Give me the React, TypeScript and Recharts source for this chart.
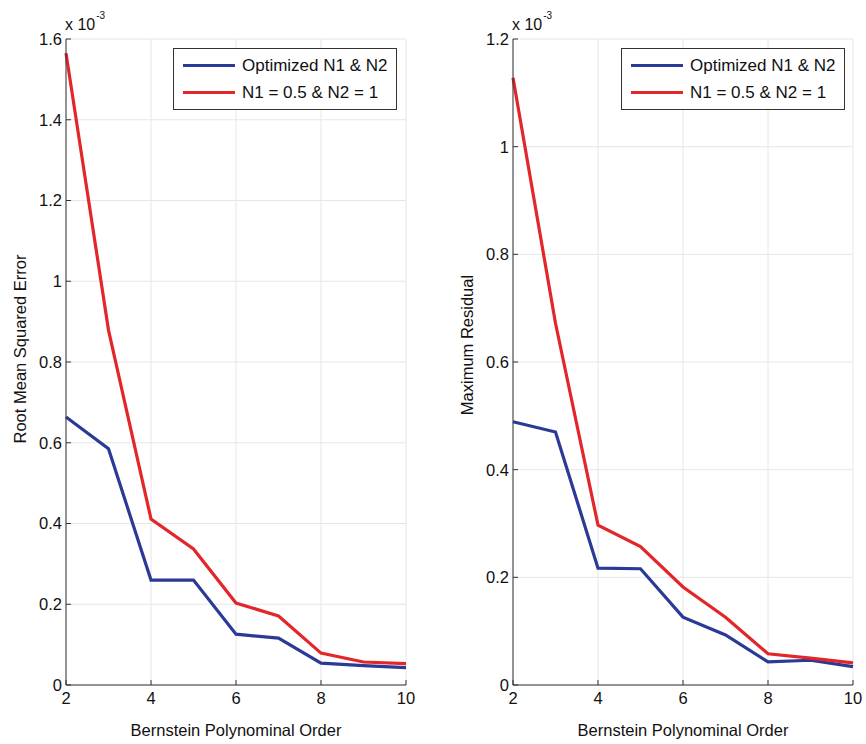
import { LineChart, Line, XAxis, YAxis, CartesianGrid, Legend } from "recharts";

const orders = [2, 3, 4, 5, 6, 7, 8, 9, 10];
const xTicks = [2, 4, 6, 8, 10];

// values are in units of 1e-3 (the axes show "x 10^-3")
const rmseOptimized = [0.664, 0.585, 0.26, 0.26, 0.126, 0.116, 0.054, 0.048, 0.043];
const rmseFixed = [1.565, 0.879, 0.411, 0.337, 0.203, 0.171, 0.079, 0.057, 0.053];
const rmseTicks = [0, 0.2, 0.4, 0.6, 0.8, 1, 1.2, 1.4, 1.6];

const maxResOptimized = [0.489, 0.47, 0.217, 0.216, 0.126, 0.093, 0.043, 0.046, 0.034];
const maxResFixed = [1.128, 0.672, 0.297, 0.257, 0.182, 0.126, 0.058, 0.05, 0.041];
const maxResTicks = [0, 0.2, 0.4, 0.6, 0.8, 1, 1.2];

const seriesNames = ["Optimized N1 & N2", "N1 = 0.5 & N2 = 1"];
const BLUE = "#2b3a96";
const RED = "#e2262a";
const FONT = '"Liberation Sans", Arial, Helvetica, sans-serif';
const TEXT = "#111";

const buildRows = (a: number[], b: number[]) =>
  orders.map((o, i) => ({ order: o, optimized: a[i], fixed: b[i] }));

const LegendBox = ({ payload }: any) => {
  const items = [...(payload || [])].sort(
    (a: any, b: any) => seriesNames.indexOf(a.value) - seriesNames.indexOf(b.value)
  );
  return (
    <div
      style={{
        width: 222,
        height: 57,
        border: "1px solid #333",
        background: "#fff",
        paddingTop: 3,
        boxSizing: "content-box",
        fontFamily: FONT,
        fontSize: 17,
        color: TEXT,
      }}
    >
      {items.map((p: any) => (
        <div key={p.value} style={{ display: "flex", alignItems: "center", height: 27 }}>
          <span style={{ display: "inline-block", width: 52, height: 3, background: p.color, marginLeft: 9, marginRight: 7 }} />
          <span style={{ whiteSpace: "nowrap" }}>{p.value}</span>
        </div>
      ))}
    </div>
  );
};

interface PanelProps {
  left: number;
  width: number;
  axisWidth: number;
  rightMargin: number;
  data: { order: number; optimized: number; fixed: number }[];
  yTicks: number[];
  yLabel: string;
  yLabelX: number;
  yLabelY: number;
  legendLeft: number;
}

const Panel = ({ left, width, axisWidth, rightMargin, data, yTicks, yLabel, yLabelX, yLabelY, legendLeft }: PanelProps) => (
  <div style={{ position: "absolute", left, top: 0, width, height: 744 }}>
    <LineChart width={width} height={744} data={data} margin={{ top: 39, right: rightMargin, bottom: 0, left: 0 }}>
      <CartesianGrid stroke="#e6e6e6" strokeWidth={1} />
      <XAxis
        dataKey="order"
        type="number"
        domain={[2, 10]}
        ticks={xTicks}
        height={59}
        tickSize={-5}
        tickMargin={12}
        stroke="#333"
        tick={{ fill: TEXT, fontSize: 16.5, fontFamily: FONT }}
        label={{ value: "Bernstein Polynominal Order", position: "insideBottom", offset: 8, fill: TEXT, fontSize: 16.5, fontFamily: FONT }}
      />
      <YAxis
        type="number"
        domain={[yTicks[0], yTicks[yTicks.length - 1]]}
        ticks={yTicks}
        width={axisWidth}
        tickSize={-5}
        tickMargin={9}
        stroke="#333"
        tick={{ fill: TEXT, fontSize: 16.5, fontFamily: FONT }}
        tickFormatter={(v: number) => String(v)}
      />
      <Legend
        layout="vertical"
        align="center"
        verticalAlign="middle"
        wrapperStyle={{ left: legendLeft, top: 48, width: "auto" }}
        content={<LegendBox />}
      />
      <Line
        type="linear"
        dataKey="optimized"
        name={seriesNames[0]}
        stroke={BLUE}
        strokeWidth={3.2}
        dot={false}
        isAnimationActive={false}
      />
      <Line
        type="linear"
        dataKey="fixed"
        name={seriesNames[1]}
        stroke={RED}
        strokeWidth={3.2}
        dot={false}
        isAnimationActive={false}
      />
    </LineChart>
    <div
      style={{
        position: "absolute",
        left: yLabelX,
        top: yLabelY,
        transform: "translate(-50%, -50%) rotate(-90deg)",
        whiteSpace: "nowrap",
        fontFamily: FONT,
        fontSize: 16.5,
        color: TEXT,
      }}
    >
      {yLabel}
    </div>
    <div
      style={{
        position: "absolute",
        left: axisWidth - 1,
        top: 15,
        whiteSpace: "nowrap",
        fontFamily: FONT,
        fontSize: 16,
        color: TEXT,
        lineHeight: "20px",
      }}
    >
      x 10
      <span style={{ fontSize: 10, position: "relative", top: -11, marginLeft: 1 }}>-3</span>
    </div>
  </div>
);

export default function App() {
  return (
    <div style={{ position: "absolute", left: 0, top: 0, width: 866, height: 744, background: "#fff" }}>
      <Panel
        left={0}
        width={430}
        axisWidth={66}
        rightMargin={24}
        data={buildRows(rmseOptimized, rmseFixed)}
        yTicks={rmseTicks}
        yLabel="Root Mean Squared Error"
        yLabelX={20}
        yLabelY={349}
        legendLeft={173}
      />
      <Panel
        left={440}
        width={426}
        axisWidth={73}
        rightMargin={13}
        data={buildRows(maxResOptimized, maxResFixed)}
        yTicks={maxResTicks}
        yLabel="Maximum Residual"
        yLabelX={27}
        yLabelY={345}
        legendLeft={181}
      />
    </div>
  );
}
